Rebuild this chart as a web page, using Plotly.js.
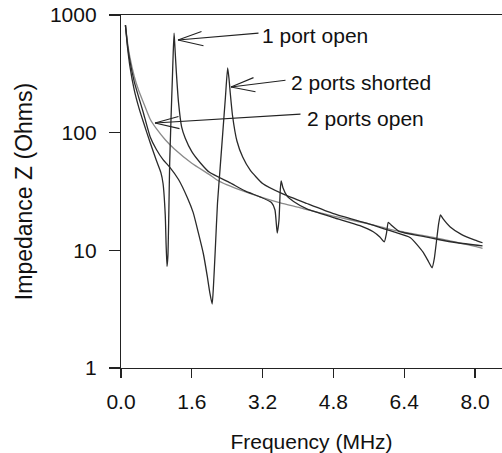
<!DOCTYPE html>
<html>
<head>
<meta charset="utf-8">
<script src="https://cdn.plot.ly/plotly-3.0.1.min.js"></script>
<style>
  html, body { margin: 0; padding: 0; background: #ffffff; }
  #chart { width: 502px; height: 453px; }
</style>
</head>
<body>
<div id="chart"></div>
<script>
// ---- Data ----
// 2 ports open (grey, smooth capacitive curve)
const freqOpen2 = [0.10,0.15,0.20,0.30,0.40,0.50,0.66,0.80,1.00,1.20,1.60,2.00,2.17,2.40,2.80,3.20,3.60,4.05,4.80,5.60,6.10,6.40,7.20,8.00,8.17];
const zOpen2    = [820,575,440,300,228,183,130,108,87,73,55,44,39.6,36,31.5,28,25.3,23,19.5,16.8,15.0,14.3,12.6,10.8,10.4];

// 1 port open
const freqOpen1 = [0.10,0.15,0.20,0.30,0.40,0.50,0.66,0.80,0.90,0.95,1.00,1.02,1.04,1.06,1.08,1.10,1.13,1.16,1.18,1.20,1.22,1.25,1.30,1.37,1.45,1.60,1.80,2.00,2.47,2.80,3.14,3.40,3.48,3.53,3.57,3.60,3.62,3.66,3.75,3.90,4.20,4.80,5.40,5.70,5.85,5.95,6.00,6.04,6.10,6.30,6.80,7.20,7.60,8.17];
const zOpen1    = [820,520,370,230,165,125,82,58,46,37,20,11,7.3,9,20,55,130,280,480,700,520,330,180,112,90,69,55,46,37.4,32,28.5,25.5,22,14,18,33,39,34,29,26,22.5,19,16.2,14.4,13,11.8,14,17.3,16.5,14.4,13.2,12.3,11.6,10.9];

// 2 ports shorted
const freqShort2 = [0.10,0.15,0.20,0.30,0.40,0.50,0.66,0.80,0.95,1.10,1.30,1.50,1.63,1.75,1.86,1.95,2.01,2.06,2.09,2.13,2.18,2.24,2.30,2.36,2.41,2.44,2.47,2.52,2.62,2.75,2.92,3.20,3.67,4.20,4.80,5.60,6.10,6.54,6.83,6.95,7.03,7.08,7.13,7.18,7.22,7.28,7.44,7.70,8.00,8.17];
const zShort2    = [820,545,410,270,200,150,92,72,59,51,40,28,21,14,9.4,6,4.3,3.5,5,10,25,50,100,200,355,290,215,140,85,62,48,37,30,25,20.5,16.8,14.6,12.8,9.6,8,7.1,8.5,12,17,20,18.5,15.8,13.6,12.2,11.6];

// Axis ticks
const xTickVals = [0, 1.6, 3.2, 4.8, 6.4, 8.0];
const xTickText = ["0.0", "1.6", "3.2", "4.8", "6.4", "8.0"];
const yTickVals = [1, 10, 100, 1000];
const yTickText = ["1", "10", "100", "1000"];

// Labels
const labelOpen1 = "1 port open";
const labelShort2 = "2 ports shorted";
const labelOpen2 = "2 ports open";

// ---- Layout geometry (pixels) ----
const W = 502, H = 453;
const M = {l: 121, r: 0, t: 15, b: 85};
const PW = W - M.l - M.r, PH = H - M.t - M.b;
const px = v => (v - M.l) / PW;          // pixel x -> paper x
const py = v => (M.t + PH - v) / PH;     // pixel y -> paper y

const FONT = "Liberation Sans, Arial, Helvetica, sans-serif";
const INK = "#222222";

const traces = [
  {x: freqOpen2, y: zOpen2, name: labelOpen2, mode: "lines",
   line: {color: "#8a8a8a", width: 1.3, shape: "spline", smoothing: 0.6}},
  {x: freqOpen1, y: zOpen1, name: labelOpen1, mode: "lines",
   line: {color: "#2a2a2a", width: 1.3, shape: "spline", smoothing: 0.5}},
  {x: freqShort2, y: zShort2, name: labelShort2, mode: "lines",
   line: {color: "#2a2a2a", width: 1.3, shape: "spline", smoothing: 0.5}}
];

// arrow helper: tip & tail in pixels
function arrow(tip, tail) {
  return {xref: "paper", yref: "paper", x: px(tip[0]), y: py(tip[1]),
          ax: tail[0] - tip[0], ay: tail[1] - tip[1], text: "",
          showarrow: true, arrowhead: 0, arrowwidth: 1.1, arrowcolor: INK,
          standoff: 0, startstandoff: 0};
}
function label(text, left, midY) {
  return {xref: "paper", yref: "paper", x: px(left), y: py(midY),
          xanchor: "left", yanchor: "middle", text: text, showarrow: false,
          font: {family: FONT, size: 21, color: "#111"}};
}

const annotations = [
  // 1 port open
  arrow([178, 40], [260, 33]), arrow([178, 40], [203, 31]), arrow([178, 40], [205, 46]),
  label(labelOpen1, 260, 35),
  // 2 ports shorted
  arrow([231, 87], [287, 80]), arrow([231, 87], [255, 77]), arrow([231, 87], [257, 92]),
  label(labelShort2, 289, 83),
  // 2 ports open
  arrow([155, 123], [302, 114]), arrow([155, 123], [180, 116]), arrow([155, 123], [181, 129]),
  label(labelOpen2, 305, 118)
];

const layout = {
  width: W, height: H,
  margin: M,
  paper_bgcolor: "#ffffff", plot_bgcolor: "#ffffff",
  showlegend: false,
  font: {family: FONT, size: 21, color: "#111"},
  xaxis: {
    range: [0, 8.61], tickvals: xTickVals, ticktext: xTickText,
    showgrid: false, zeroline: false, showline: true, mirror: true,
    linecolor: INK, linewidth: 1.2, ticks: "outside", ticklen: 9, tickwidth: 1.2, tickcolor: INK,
    ticklabelstandoff: 6,
    tickfont: {family: FONT, size: 21, color: "#111"},
    title: {text: "Frequency (MHz)", font: {family: FONT, size: 21, color: "#111"}, standoff: 28},
    automargin: false
  },
  yaxis: {
    type: "log", range: [0, 3], tickvals: yTickVals, ticktext: yTickText,
    showgrid: false, zeroline: false, showline: true,
    linecolor: INK, linewidth: 1.2, ticks: "outside", ticklen: 11, tickwidth: 1.2, tickcolor: INK,
    ticklabelstandoff: 8,
    tickfont: {family: FONT, size: 21, color: "#111"},
    title: {text: "Impedance Z (Ohms)", font: {family: FONT, size: 23, color: "#111"}, standoff: 10},
    automargin: false
  },
  annotations: annotations
};

Plotly.newPlot("chart", traces, layout, {displayModeBar: false, staticPlot: true});
</script>
</body>
</html>
